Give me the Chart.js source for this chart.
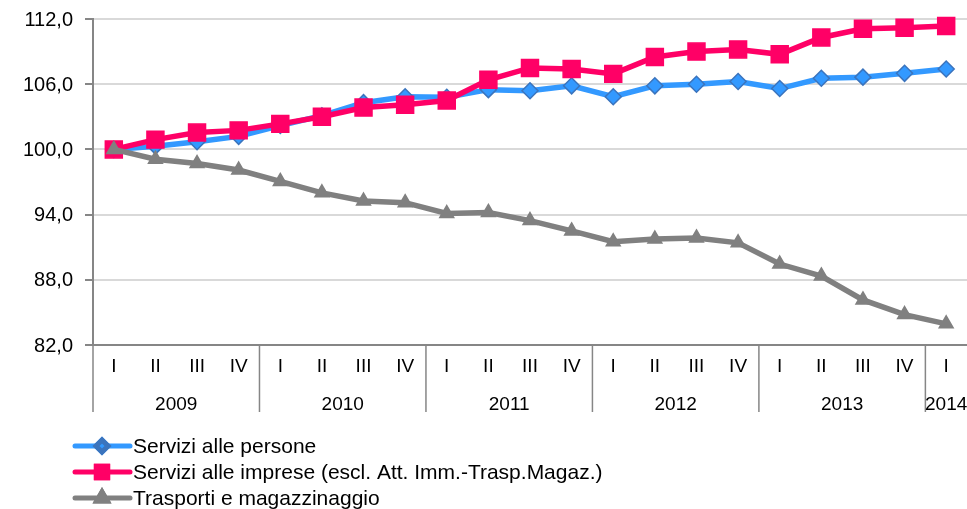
<!DOCTYPE html>
<html>
<head>
<meta charset="utf-8">
<script src="https://cdn.jsdelivr.net/npm/chart.js@4/dist/chart.umd.min.js"></script>
<style>
  body { margin: 0; background: #fff; }
  canvas { display: block; }
</style>
</head>
<body>
<canvas id="chart" width="967" height="509"></canvas>
<script>
const years = ["2009", "2010", "2011", "2012", "2013", "2014"];
const quartersPerYear = [4, 4, 4, 4, 4, 1];
const quarterNames = ["I", "II", "III", "IV"];

const seriesNames = [
  "Servizi alle persone",
  "Servizi alle imprese (escl. Att. Imm.-Trasp.Magaz.)",
  "Trasporti e magazzinaggio"
];

const persone = [100.0, 100.3, 100.7, 101.2, 102.2, 103.1, 104.3, 104.85, 104.8, 105.5, 105.4,
  105.85, 104.85, 105.85, 106.0, 106.25, 105.6, 106.55, 106.65, 107.0, 107.4];
const imprese = [100.0, 100.9, 101.55, 101.75, 102.35, 103.0, 103.85, 104.1, 104.5, 106.4, 107.5,
  107.4, 106.95, 108.5, 109.0, 109.2, 108.75, 110.3, 111.1, 111.2, 111.35];
const trasporti = [100.0, 99.1, 98.7, 98.1, 97.05, 96.0, 95.25, 95.1, 94.1, 94.2, 93.45,
  92.5, 91.5, 91.75, 91.85, 91.4, 89.45, 88.35, 86.15, 84.8, 83.95];

const yTicks = [82, 88, 94, 100, 106, 112];

// build the quarter labels from the year groups
const labels = [];
years.forEach((y, i) => {
  for (let q = 0; q < quartersPerYear[i]; q++) labels.push(quarterNames[q]);
});

const FONT = "'Liberation Sans', Arial, sans-serif";
const AXIS = "#868686";

const styles = [
  {color: "#3399ff", border: "#3b74bd", shape: "rectRot", r: 8, lr: 6},
  {color: "#ff0066", border: "#ff0066", shape: "rect", r: 12, lr: 8},
  {color: "#808080", border: "#808080", shape: "triangle", r: 8, lr: 6}
];

// axis labels drawn by hand so the plot area keeps its full size
const axisLabels = {
  id: "axisLabels",
  afterDraw(chart) {
    const ctx = chart.ctx;
    const x = chart.scales.x;
    const yScale = chart.scales.y;
    const area = chart.chartArea;
    const half = (x.getPixelForValue(1) - x.getPixelForValue(0)) / 2;
    ctx.save();
    ctx.fillStyle = "#000";
    ctx.textBaseline = "middle";

    ctx.font = "20px " + FONT;
    ctx.textAlign = "right";
    yTicks.forEach(v => {
      ctx.fillText(v.toFixed(1).replace(".", ","), 73, yScale.getPixelForValue(v) + 1);
    });

    ctx.font = "19px " + FONT;
    ctx.textAlign = "center";
    labels.forEach((l, i) => ctx.fillText(l, x.getPixelForValue(i), 367));
    ctx.strokeStyle = AXIS;
    ctx.lineWidth = 1.5;
    let start = 0;
    years.forEach((y, i) => {
      const end = start + quartersPerYear[i] - 1;
      const left = x.getPixelForValue(start) - half;
      const right = x.getPixelForValue(end) + half;
      ctx.beginPath();
      ctx.moveTo(left, area.bottom);
      ctx.lineTo(left, 412);
      ctx.stroke();
      ctx.fillText(y, (left + right) / 2, 405);
      start = end + 1;
    });
    ctx.restore();
  }
};

const lineLegend = {
  id: "lineLegend",
  afterDraw(chart) {
    const ctx = chart.ctx;
    const rows = [446, 472, 498];
    ctx.save();
    seriesNames.forEach((name, i) => {
      const s = styles[i];
      const y = rows[i];
      ctx.strokeStyle = s.color;
      ctx.lineWidth = 5;
      ctx.lineCap = "round";
      ctx.beginPath();
      ctx.moveTo(75, y);
      ctx.lineTo(130, y);
      ctx.stroke();
      Chart.helpers.drawPoint(ctx, {
        pointStyle: s.shape, radius: s.lr, borderWidth: 1.5, rotation: 0
      }, 102, y);
      ctx.fillStyle = s.color;
      ctx.strokeStyle = s.border;
      ctx.fill();
      ctx.stroke();
      ctx.fillStyle = "#000";
      ctx.font = "21px " + FONT;
      ctx.textAlign = "left";
      ctx.textBaseline = "middle";
      ctx.fillText(name, 133, y + 1);
    });
    ctx.restore();
  }
};

const data = [persone, imprese, trasporti];

new Chart(document.getElementById("chart"), {
  type: "line",
  data: {
    labels: labels,
    datasets: data.map((d, i) => ({
      label: seriesNames[i],
      data: d,
      borderColor: styles[i].color,
      backgroundColor: styles[i].color,
      pointBorderColor: styles[i].border,
      pointBorderWidth: 1.5,
      pointStyle: styles[i].shape,
      pointRadius: styles[i].r,
      borderWidth: 5.5,
      tension: 0,
      clip: false,
      order: 3 - i
    }))
  },
  options: {
    responsive: false,
    animation: false,
    layout: {autoPadding: false, padding: {top: 19, left: 0, right: 0, bottom: 0}},
    plugins: {legend: {display: false}, tooltip: {enabled: false}},
    scales: {
      x: {
        offset: true,
        grid: {display: false, drawTicks: false},
        border: {color: AXIS, width: 2},
        ticks: {display: false},
        afterFit(scale) { scale.height = 164; }
      },
      y: {
        min: 82,
        max: 112,
        afterBuildTicks(scale) { scale.ticks = yTicks.map(v => ({value: v})); },
        grid: {color: "#d9d9d9", lineWidth: 2, tickLength: 8, tickColor: AXIS},
        border: {color: AXIS, width: 2},
        ticks: {display: false},
        afterFit(scale) { scale.width = 93; }
      }
    }
  },
  plugins: [axisLabels, lineLegend]
});
</script>
</body>
</html>
